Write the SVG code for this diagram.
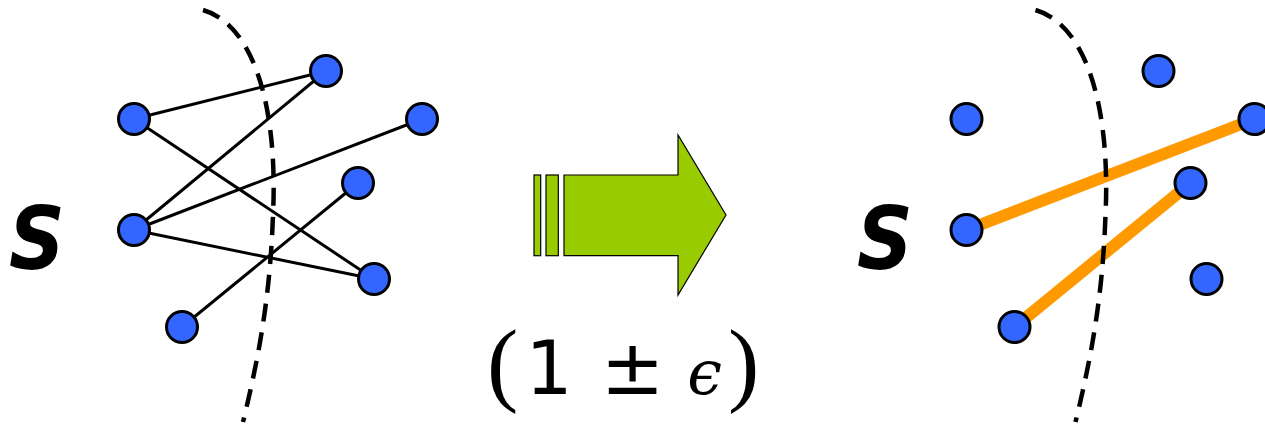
<svg xmlns="http://www.w3.org/2000/svg" width="1265" height="424" viewBox="0 0 1265 424">
<style>
.node{fill:#3366FF;stroke:#000;stroke-width:3}
.edge{stroke:#000;stroke-width:3;fill:none}
.cut{stroke:#000;stroke-width:4.5;fill:none;stroke-dasharray:18 11}
.sel{stroke:#FF9900;stroke-width:12;fill:none}
.lbl{font-family:"DejaVu Sans",sans-serif;font-weight:bold;font-style:italic;font-size:88px;fill:#000}
.arr{fill:#99CC00;stroke:#000;stroke-width:1.2}
.math{font-family:"DejaVu Sans",sans-serif;fill:#000;text-anchor:middle}
</style>
<defs>
<path id="cutpath" d="M203,10 C255,25 278,110 273,215 C270,300 258,360 243,422"/>
</defs>
<g id="left">
<g id="connectors-left">
<line class="edge" x1="134" y1="119" x2="326" y2="71"/>
<line class="edge" x1="134" y1="119" x2="374" y2="279"/>
<line class="edge" x1="134" y1="230" x2="326" y2="71"/>
<line class="edge" x1="134" y1="230" x2="422" y2="119"/>
<line class="edge" x1="134" y1="230" x2="374" y2="279"/>
<line class="edge" x1="182" y1="327" x2="358" y2="183"/>
</g>
<use href="#cutpath" class="cut"/>
<g id="nA"><circle class="node" cx="134" cy="119" r="15.5"/></g>
<g id="nB"><circle class="node" cx="134" cy="230" r="15.5"/></g>
<g id="nC"><circle class="node" cx="326" cy="71" r="15.5"/></g>
<g id="nD"><circle class="node" cx="422" cy="119" r="15.5"/></g>
<g id="nE"><circle class="node" cx="358" cy="183" r="15.5"/></g>
<g id="nF"><circle class="node" cx="374" cy="279" r="15.5"/></g>
<g id="nG"><circle class="node" cx="182" cy="327" r="15.5"/></g>
<text class="lbl" transform="translate(9,269) scale(0.88,1)">S</text>
</g>
<g id="arrow">
<rect class="arr" x="534" y="175" width="6.7" height="80.7"/>
<rect class="arr" x="546" y="175" width="12.3" height="80.7"/>
<path class="arr" d="M564,175 H678 V135 L726,215 L678,295 V255.7 H564 Z"/>
</g>
<g id="factor">
<text x="487" y="394" style="font-family:'Liberation Serif',serif;font-size:94px">(</text>
<text class="math" x="549" y="394" font-size="74">1</text>
<text class="math" x="632.5" y="394" font-size="76">±</text>
<text class="math" x="704.5" y="394" font-size="62" style="font-family:'DejaVu Serif',serif;font-style:italic">ϵ</text>
<text x="728" y="394" style="font-family:'Liberation Serif',serif;font-size:94px">)</text>
</g>
<g id="right" transform="translate(832.5,0)">
<g id="connectors-right">
<line class="sel" x1="134" y1="230" x2="422" y2="119"/>
<line class="sel" x1="182" y1="327" x2="358" y2="183"/>
</g>
<use href="#cutpath" class="cut"/>
<g id="rA"><circle class="node" cx="134" cy="119" r="15.5"/></g>
<g id="rB"><circle class="node" cx="134" cy="230" r="15.5"/></g>
<g id="rC"><circle class="node" cx="326" cy="71" r="15.5"/></g>
<g id="rD"><circle class="node" cx="422" cy="119" r="15.5"/></g>
<g id="rE"><circle class="node" cx="358" cy="183" r="15.5"/></g>
<g id="rF"><circle class="node" cx="374" cy="279" r="15.5"/></g>
<g id="rG"><circle class="node" cx="182" cy="327" r="15.5"/></g>
<text class="lbl" transform="translate(24.5,269) scale(0.88,1)">S</text>
</g>
</svg>
